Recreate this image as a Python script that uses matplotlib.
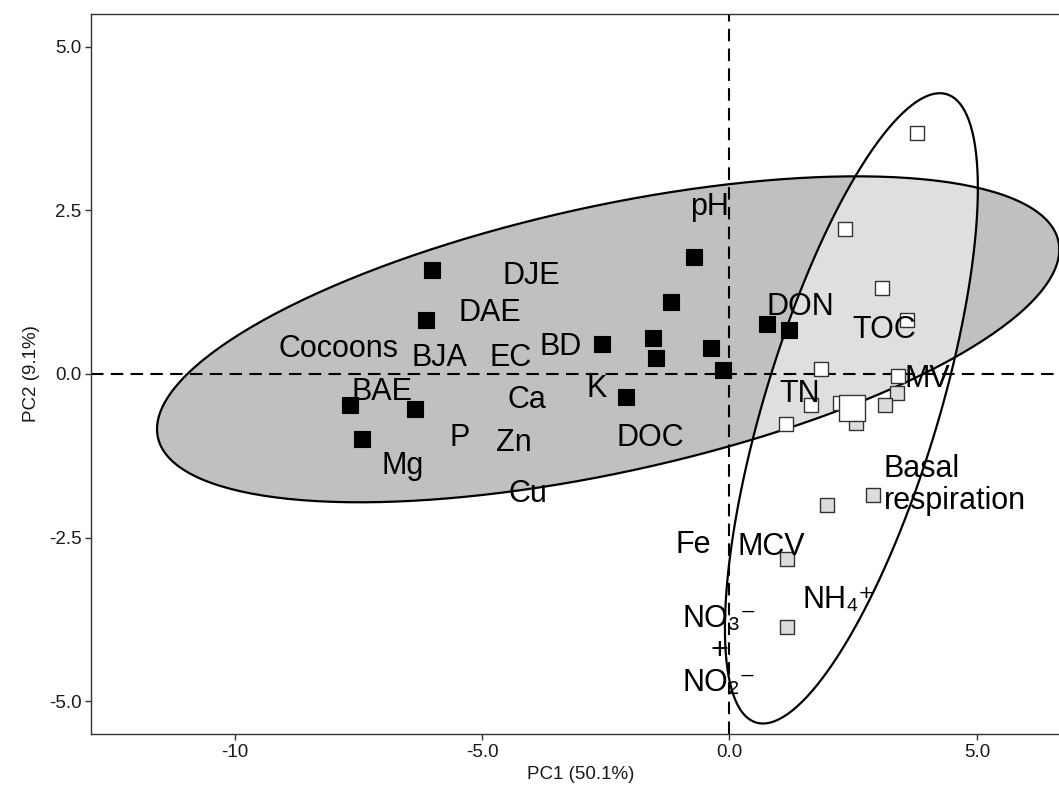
import matplotlib
matplotlib.use('Agg')
import matplotlib.pyplot as plt
import numpy as np

plt.rcParams['font.family'] = ['Liberation Sans', 'DejaVu Sans']

# PCA scores (PC1, PC2) by group
black_x = [-6.01, -6.13, -7.67, -6.35, -7.42, -0.72, -1.18, -2.58, -1.55, -1.48, -0.37, -0.13, -2.09, 0.76, 1.20]
black_y = [1.59, 0.82, -0.47, -0.53, -0.99, 1.79, 1.10, 0.46, 0.55, 0.24, 0.40, 0.06, -0.35, 0.76, 0.67]

white_x = [2.33, 3.79, 3.08, 3.58, 1.85, 3.40, 1.65, 1.14, 2.23]
white_y = [2.21, 3.68, 1.31, 0.82, 0.08, -0.03, -0.47, -0.76, -0.44]

grey_x = [3.38, 3.14, 2.56, 1.97, 2.90, 1.16, 1.16]
grey_y = [-0.29, -0.47, -0.75, -2.00, -1.85, -2.82, -3.86]

big_x = [2.47]
big_y = [-0.52]

# confidence ellipses: centre and covariance-like matrix
ell1_center = [-2.45, 0.53]
ell1_cov = [[83.1, 12.5], [12.5, 6.2]]
ell2_center = [2.465, -0.525]
ell2_cov = [[6.53, 8.6], [8.6, 23.18]]

# variable labels
var_names = ['pH', 'DJE', 'DAE', 'DON', 'TOC', 'Cocoons', 'BJA', 'EC', 'BD', 'MV',
             'BAE', 'Ca', 'K', 'TN', 'P', 'Zn', 'DOC', 'Mg', 'Cu', 'Fe', 'MCV',
             'NH\u2084\u207a', 'NO\u2083\u207b\n+\nNO\u2082\u207b']
var_x = [-0.40, -4.00, -4.85, 1.43, 3.13, -7.90, -5.85, -4.42, -3.41, 4.00,
         -7.02, -4.10, -2.68, 1.43, -5.45, -4.35, -1.60, -6.60, -4.07, -0.74, 0.84,
         2.20, -0.20]
var_y = [2.55, 1.49, 0.93, 1.02, 0.67, 0.38, 0.25, 0.24, 0.42, -0.07,
         -0.28, -0.40, -0.23, -0.30, -0.98, -1.06, -0.98, -1.41, -1.84, -2.62, -2.65,
         -3.46, -4.23]

basal_label = 'Basal\nrespiration'
basal_x = 3.12
basal_y = -1.70

xticks = [-10, -5, 0, 5]
xtick_labels = ['-10', '-5.0', '0.0', '5.0']
yticks = [5, 2.5, 0, -2.5, -5]
ytick_labels = ['5.0', '2.5', '0.0', '-2.5', '-5.0']


def ellipse_pts(center, cov, n=300):
    L = np.linalg.cholesky(np.array(cov))
    t = np.linspace(0, 2 * np.pi, n)
    circ = np.vstack([np.cos(t), np.sin(t)])
    pts = L @ circ
    return pts[0] + center[0], pts[1] + center[1]


fig = plt.figure(figsize=(10.59, 7.91), dpi=100)
ax = fig.add_axes([91 / 1059, 57 / 791, 1 - 91 / 1059, 720 / 791])

# ellipses: fills first, outlines on top
e1x, e1y = ellipse_pts(ell1_center, ell1_cov)
e2x, e2y = ellipse_pts(ell2_center, ell2_cov)
ax.fill(e1x, e1y, facecolor='#c0c0c0', edgecolor='none', zorder=1)
ax.fill(e2x, e2y, facecolor=(1, 1, 1, 0.5), edgecolor='none', zorder=1.1)
ax.plot(e1x, e1y, color='black', lw=1.6, zorder=1.2)
ax.plot(e2x, e2y, color='black', lw=1.6, zorder=1.2)

# reference lines
ax.axhline(0, color='black', lw=1.5, ls=(0, (6, 3.5)), zorder=2)
ax.axvline(0, color='black', lw=1.5, ls=(0, (6, 3.5)), zorder=2)

# points
ax.scatter(black_x, black_y, marker='s', s=120, c='black', edgecolors='black', lw=0.8, zorder=3)
ax.scatter(white_x, white_y, marker='s', s=110, c='white', edgecolors='#333333', lw=1.0, zorder=3)
ax.scatter(grey_x, grey_y, marker='s', s=110, c='#dcdcdc', edgecolors='#333333', lw=1.0, zorder=3)
ax.scatter(big_x, big_y, marker='s', s=360, c='white', edgecolors='#333333', lw=1.0, zorder=3.5)

# variable labels
for name, x, y in zip(var_names, var_x, var_y):
    ax.text(x, y, name, fontsize=22, ha='center', va='center', zorder=4,
            linespacing=1.1)
ax.text(basal_x, basal_y, basal_label, fontsize=22, ha='left', va='center',
        zorder=4, linespacing=1.1)

ax.set_xlim(-12.90, 6.66)
ax.set_ylim(-5.50, 5.50)
ax.set_xticks(xticks)
ax.set_xticklabels(xtick_labels)
ax.set_yticks(yticks)
ax.set_yticklabels(ytick_labels)
ax.tick_params(direction='out', length=4.5, width=1, color='#333333',
               labelsize=13.5, labelcolor='#1a1a1a', pad=2.5)
for side in ['left', 'bottom', 'top']:
    ax.spines[side].set_color('#333333')
    ax.spines[side].set_linewidth(1.0)
ax.spines['right'].set_visible(False)

ax.set_xlabel('PC1 (50.1%)', fontsize=13.5, color='#1a1a1a', labelpad=4, x=0.506)
ax.set_ylabel('PC2 (9.1%)', fontsize=13.5, color='#1a1a1a', labelpad=6)

fig.savefig('out.png', dpi=100)
